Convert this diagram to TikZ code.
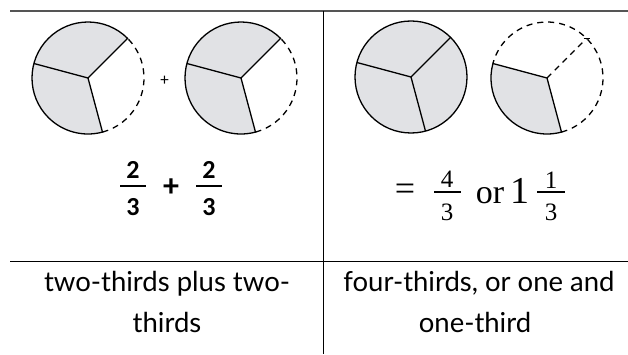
\documentclass[tikz,border=0pt]{standalone}
\usepackage{fontspec}
\setmainfont{Lato}
\newfontfamily\digfont{Carlito}
\newfontfamily\serfont{Liberation Serif}
\definecolor{piefill}{RGB}{225,226,229}
\definecolor{rulegray}{RGB}{85,85,85}
\tikzset{
  pieline/.style={line width=1.3pt, black},
  piedash/.style={line width=1.3pt, black, dash pattern=on 6pt off 5pt},
  tableline/.style={line width=1pt, black},
  ldig/.style={inner sep=0pt, anchor=base, font=\digfont\bfseries\fontsize{26}{28}\selectfont},
  rdig/.style={inner sep=0pt, anchor=base, font=\serfont\fontsize{25}{27}\selectfont},
  rbig/.style={inner sep=0pt, anchor=base, font=\serfont\fontsize{34}{36}\selectfont},
  fbar/.style={line width=1.3pt, black},
  caption/.style={inner sep=0pt, anchor=base, font=\fontsize{27.5}{30}\selectfont}
}
\begin{document}
\begin{tikzpicture}[x=1pt,y=1pt]
\useasboundingbox (0,0) rectangle (628,354);
% table rules
\coordinate (tl) at (10,343);
\coordinate (tr) at (628,343);
\coordinate (vt) at (323,343);
\coordinate (vb) at (323,0);
\coordinate (hl) at (10,93);
\coordinate (hr) at (628,93);
\draw[line width=1.5pt, rulegray] (tl) -- (tr);
\draw[tableline] (vt) -- (vb);
\draw[tableline] (hl) -- (hr);
% pie 1
\coordinate (c1) at (88,276);
\filldraw[pieline, fill=piefill] (c1) -- ++(45:56) arc (45:285:56) -- cycle;
\draw[pieline] (c1) -- ++(165:56);
\draw[piedash] (c1) ++(285:56) arc (285:405:56);
% plus
\node[inner sep=0pt, font=\digfont\fontsize{17}{18}\selectfont] (plus1) at (164.5,273) {+};
% pie 2
\coordinate (c2) at (241,276);
\filldraw[pieline, fill=piefill] (c2) -- ++(45:56) arc (45:285:56) -- cycle;
\draw[pieline] (c2) -- ++(165:56);
\draw[piedash] (c2) ++(285:56) arc (285:405:56);
% pie 3
\coordinate (c3) at (411,277);
\filldraw[pieline, fill=piefill] (c3) circle (56);
\draw[pieline] (c3) -- ++(45:56);
\draw[pieline] (c3) -- ++(165:56);
\draw[pieline] (c3) -- ++(285:56);
% pie 4
\coordinate (c4) at (547,276);
\filldraw[pieline, fill=piefill] (c4) -- ++(165:56) arc (165:285:56) -- cycle;
\draw[piedash] (c4) ++(285:56) arc (285:525:56);
\draw[piedash] (c4) -- ++(45:56) coordinate (c4e);
\draw[line width=0.8pt] ([xshift=-3pt]c4e) -- ([xshift=3pt]c4e);
% left fractions
\node[ldig] (n1) at (133,176) {2};
\node[ldig] (d1) at (133,139) {3};
\draw[fbar] (120,168) -- (146,168);
\node[inner sep=0pt, font=\digfont\bfseries\fontsize{32}{34}\selectfont] (plus2) at (171,166) {+};
\node[ldig] (n2) at (209,176) {2};
\node[ldig] (d2) at (209,139) {3};
\draw[fbar] (196,168) -- (222,168);
% right fractions
\node[inner sep=0pt, font=\serfont\fontsize{36}{38}\selectfont] (eq) at (405,162) {=};
\node[rdig] (n3) at (447,167) {4};
\node[rdig] (d3) at (447,134) {3};
\draw[fbar] (434,162) -- (461,162);
\node[rbig] (or) at (490,151) {or};
\node[inner sep=0pt, anchor=base, font=\serfont\fontsize{38}{40}\selectfont] (one) at (520,151) {1};
\node[rdig] (n4) at (551,166) {1};
\node[rdig] (d4) at (551,134) {3};
\draw[fbar] (537,162) -- (565,162);
% captions
\node[caption] (cap1a) at (167,63) {two-thirds plus two-};
\node[caption] (cap1b) at (167,22) {thirds};
\node[caption] (cap2a) at (479,63) {four-thirds, or one and};
\node[caption] (cap2b) at (475,22) {one-third};
\end{tikzpicture}
\end{document}
